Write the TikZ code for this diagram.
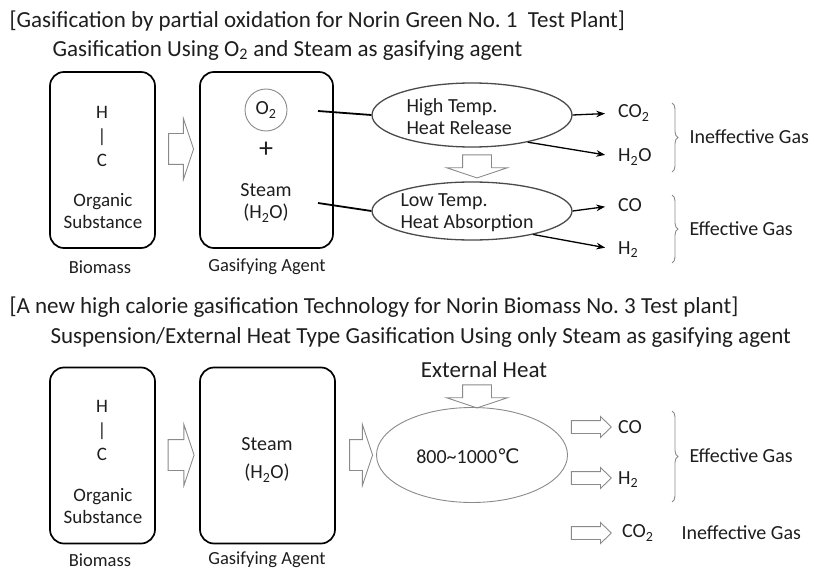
\documentclass[tikz,border=0pt]{standalone}
\usepackage{fontspec}
\setmainfont{Carlito}
\newfontfamily\symfont{DejaVu Sans}
\usepackage{tikz}
\usetikzlibrary{shapes,arrows.meta,positioning,decorations.pathreplacing}
\usepackage{xcolor}
\definecolor{ink}{HTML}{1E1E1E}
\definecolor{edge}{HTML}{8A8A8A}
\definecolor{rim}{HTML}{4A4A4A}
\newcommand{\sub}[1]{\textsubscript{#1}}

\begin{document}
\begin{tikzpicture}[x=1pt, y=-1pt, >=Stealth,
    every node/.style={text=ink, font=\fontsize{19}{22}\selectfont},
    title/.style={anchor=west, font=\fontsize{23}{26}\selectfont},
    label/.style={font=\fontsize{18.5}{22}\selectfont, inner sep=1pt},
    big/.style={font=\fontsize{20}{22}\selectfont},
    box/.style={draw=black, line width=1.7pt, rounded corners=14pt, minimum width=105pt, minimum height=176pt},
    oval/.style={ellipse, draw=rim, line width=1.3pt, minimum width=200pt, minimum height=62pt},
    hollow/.style={single arrow, draw=edge, fill=white, line width=0.9pt, inner xsep=0pt, inner ysep=15pt,
      single arrow tip angle=143, single arrow head extend=15pt},
    small/.style={single arrow, draw=edge, fill=white, line width=0.9pt, inner xsep=0pt, inner ysep=6pt,
      single arrow tip angle=88, single arrow head extend=4pt, minimum height=40pt},
    gas/.style={anchor=west, inner sep=0pt, font=\fontsize{20}{22}\selectfont},
    feed/.style={line width=1.8pt},
    yield/.style={->, line width=1.3pt},
    curly/.style={draw=edge, line width=0.9pt, decorate, decoration={brace, amplitude=6pt}}]
  \useasboundingbox (0,0) rectangle (813,572);

  % Partial oxidation
  \node[title] (t1) at (6,21) {[Gasification by partial oxidation for Norin Green No.\ 1\ \ Test Plant]};
  \node[title] (s1) at (49,50) {Gasification Using O\sub{2} and Steam as gasifying agent};

  \node[box] (bm1) at (102.5,160) {};
  \node[align=center, font=\fontsize{19}{24}\selectfont] (hc1) at (102,136) {H\\\textbar\\C};
  \node[align=center, font=\fontsize{19}{22}\selectfont] (os1) at (103,211) {Organic\\Substance};
  \node[label] (lb1) at (100,267) {Biomass};

  \node[hollow, minimum height=25pt] (ar1) at (178.5,149) {};

  \node[box, minimum width=133pt] (ga1) at (266.5,160) {};
  \node[circle, draw=edge, line width=0.9pt, minimum size=42pt, inner sep=0pt, big] (o2) at (266,110) {O\sub{2}};
  \node[font=\fontsize{28}{28}\selectfont] (plus) at (266,150) {+};
  \node[align=center, big] (st1) at (266,203) {Steam\\(H\sub{2}O)};
  \node[label] (lg1) at (267,267) {Gasifying Agent};

  \node[oval, minimum height=64pt] (hot) at (472,115) {};
  \node[anchor=west, align=left, big] (hotx) at (403,117) {High Temp.\\Heat Release};
  \node[oval, minimum height=58pt] (cold) at (472,211) {};
  \node[anchor=west, align=left, big] (coldx) at (397,213) {Low Temp.\\Heat Absorption};
  \node[hollow, minimum height=23pt, rotate=-90, inner ysep=14pt, single arrow head extend=16pt] (ar2) at (477,164) {};

  \coordinate (fo) at (318,111);
  \coordinate (fs) at (318,203);
  \draw[feed] (fo) -- (hot.west);
  \draw[feed] (fs) -- (cold.west);

  \node[gas] (co2a) at (618,113) {CO\sub{2}};
  \node[gas] (h2oa) at (618,157) {H\sub{2}O};
  \node[gas] (coa) at (618,205) {CO};
  \node[gas] (h2a) at (618,250) {H\sub{2}};
  \draw[yield, shorten >=13pt] (hot.east) -- (co2a.west);
  \draw[yield, shorten >=13pt] (hot.-26) -- (h2oa.west);
  \draw[yield, shorten >=13pt] (cold.east) -- (coa.west);
  \draw[yield, shorten >=13pt] (cold.-21) -- (h2a.west);

  \coordinate (b1t) at (672,103);
  \coordinate (b1b) at (672,172);
  \coordinate (b2t) at (672,195);
  \coordinate (b2b) at (672,263);
  \draw[curly] (b1t) -- (b1b);
  \draw[curly] (b2t) -- (b2b);
  \node[anchor=west, big] (ng1) at (686,137) {Ineffective Gas};
  \node[anchor=west, big] (eg1) at (686,229) {Effective Gas};

  % External heat
  \node[title] (t2) at (6,307) {[A new high calorie gasification Technology for Norin Biomass No.\ 3 Test plant]};
  \node[title] (s2) at (47,337) {Suspension/External Heat Type Gasification Using only Steam as gasifying agent};

  \node[box] (bm2) at (102.5,455.5) {};
  \node[align=center, font=\fontsize{19}{24}\selectfont] (hc2) at (102,430) {H\\\textbar\\C};
  \node[align=center, font=\fontsize{19}{22}\selectfont] (os2) at (103,506) {Organic\\Substance};
  \node[label] (lb2) at (100,560) {Biomass};

  \node[hollow, minimum height=26pt] (ar3) at (178.5,455) {};

  \node[box, minimum width=135pt] (ga2) at (267.5,455.5) {};
  \node[align=center, font=\fontsize{20}{28}\selectfont] (st2) at (267,460) {Steam\\(H\sub{2}O)};
  \node[label] (lg2) at (267,560) {Gasifying Agent};

  \node[hollow, minimum height=23pt] (ar4) at (358.5,455) {};

  \node[font=\fontsize{23}{26}\selectfont] (xh) at (484,370) {External Heat};
  \node[hollow, minimum height=23pt, rotate=-90, inner ysep=14pt, single arrow head extend=16pt] (ar5) at (477,394) {};
  \node[ellipse, draw=edge, line width=0.9pt, minimum width=191pt, minimum height=95pt] (reac) at (472,455) {};
  \node[big] (temp) at (468,456) {800\textasciitilde1000{\symfont ℃}};

  \node[small] (ar6) at (588,427) {};
  \node[small] (ar7) at (588,478) {};
  \node[small] (ar8) at (588,533) {};
  \node[gas] (cob) at (618,427) {CO};
  \node[gas] (h2b) at (618,480) {H\sub{2}};
  \node[gas] (co2b) at (622,533) {CO\sub{2}};

  \coordinate (b3t) at (672,411);
  \coordinate (b3b) at (672,502);
  \draw[curly] (b3t) -- (b3b);
  \node[anchor=west, big] (eg2) at (686,456) {Effective Gas};
  \node[anchor=west, big] (ng2) at (678,533) {Ineffective Gas};
\end{tikzpicture}
\end{document}
